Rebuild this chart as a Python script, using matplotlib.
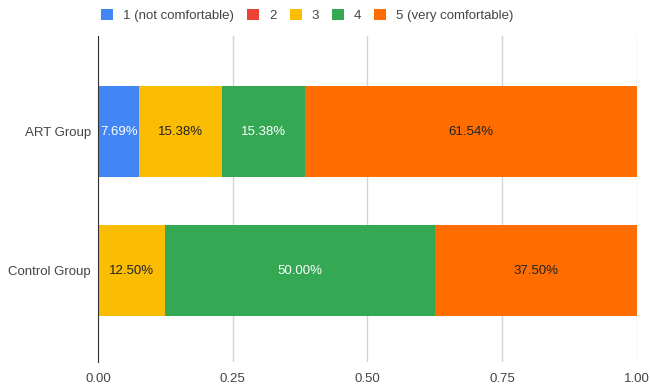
import numpy as np
import matplotlib
matplotlib.use('Agg')
import matplotlib.pyplot as plt
from matplotlib.patches import Patch

plt.rcParams['font.family'] = ['Liberation Sans', 'DejaVu Sans']

groups = ['ART Group', 'Control Group']
levels = ['1 (not comfortable)', '2', '3', '4', '5 (very comfortable)']
colors = ['#4285F4', '#EA4335', '#FBBC04', '#34A853', '#FF6D01']
label_colors = ['white', 'white', '#222222', 'white', '#222222']

# share of answers per level, one list per level (ART, Control)
lvl1 = [0.0769, 0.0]
lvl2 = [0.0, 0.0]
lvl3 = [0.1538, 0.125]
lvl4 = [0.1538, 0.50]
lvl5 = [0.6154, 0.375]
values = [lvl1, lvl2, lvl3, lvl4, lvl5]

fs = 9.5

fig = plt.figure(figsize=(6.5, 3.88), dpi=100)
ax = fig.add_axes([0.1508, 0.067, 0.829, 0.84])

y = np.arange(len(groups))
left = np.zeros(len(groups))
for vals, col, tcol in zip(values, colors, label_colors):
    vals = np.array(vals)
    ax.barh(y, vals, left=left, height=0.655, color=col, zorder=2)
    for yi, v, l in zip(y, vals, left):
        if v > 0:
            ax.text(l + v / 2, yi, f'{v * 100:.2f}%', ha='center', va='center',
                    color=tcol, fontsize=fs, zorder=3)
    left += vals

ax.set_xlim(0, 1)
ax.set_ylim(1.658, -0.687)
ax.set_yticks(y)
ax.set_yticklabels(groups)
ax.set_xticks([0, 0.25, 0.5, 0.75, 1.0])
ax.set_xticklabels(['0.00', '0.25', '0.50', '0.75', '1.00'])
ax.tick_params(length=0, labelsize=fs, colors='#444444')
ax.tick_params(axis='x', pad=8)
ax.tick_params(axis='y', pad=5)
ax.grid(axis='x', color='#d3d3d3', lw=1, zorder=0)
for s in ['top', 'right', 'bottom']:
    ax.spines[s].set_visible(False)
ax.spines['left'].set_color('#333333')
ax.spines['left'].set_zorder(4)

handles = [Patch(facecolor=c, edgecolor='none') for c in colors]
fig.legend(handles, levels, loc='center', bbox_to_anchor=(0.473, 0.96), ncol=5,
           frameon=False, fontsize=fs, handlelength=0.9, handleheight=0.9,
           handletextpad=0.75, columnspacing=1.0, labelcolor='#444444')

fig.savefig('out.png', dpi=100)
